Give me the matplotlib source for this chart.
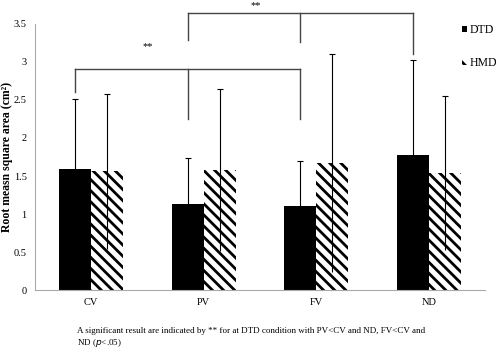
import numpy as np
import matplotlib
matplotlib.use("Agg")
import matplotlib.pyplot as plt
from matplotlib.patches import Patch

plt.rcParams["font.family"] = ["Liberation Serif", "DejaVu Serif"]
plt.rcParams["hatch.linewidth"] = 2.0

categories = ["CV", "PV", "FV", "ND"]
dtd_mean = [1.59, 1.13, 1.10, 1.77]
dtd_err = [0.92, 0.61, 0.60, 1.25]
hmd_mean = [1.565, 1.58, 1.67, 1.54]
hmd_err = [1.02, 1.06, 1.43, 1.01]

# significance brackets: category indices, drop bottoms, bracket height
brackets = [
    ([0, 1, 2], [2.60, 2.25, 2.25], 2.91),
    ([1, 2, 3], [3.29, 3.26, 3.10], 3.65),
]

fig = plt.figure(figsize=(4.96, 3.52), dpi=100)
ax = fig.add_axes([0.0706, 0.176, 0.9074, 0.756])

x = np.arange(len(categories))
w = 0.285
ax.bar(x - w / 2, dtd_mean, w, color="black", linewidth=0)
ax.bar(x + w / 2, hmd_mean, w, color="white", edgecolor="black",
       linewidth=0, hatch="\\\\\\")

for xs, m, e in [(x - w / 2, dtd_mean, dtd_err), (x + w / 2, hmd_mean, hmd_err)]:
    m = np.array(m)
    e = np.array(e)
    ax.vlines(xs, m - e, m + e, color="black", lw=0.8)
    ax.plot(xs, m + e, ls="none", marker="_", ms=4, mew=0.8, color="black")

for idx, lows, top in brackets:
    xs = [v - w / 2 for v in idx]
    ax.plot([xs[0], xs[-1]], [top, top], color="#444444", lw=1.0, clip_on=False)
    for xi, lo in zip(xs, lows):
        ax.plot([xi, xi], [lo, top], color="#444444", lw=1.0, clip_on=False)

ax.text(0.5, 3.2, "**", ha="center", va="center", fontsize=7.5)
fig.text(0.515, 0.998, "**", ha="center", va="top", fontsize=7.5)

ax.set_xlim(-0.5, 3.5)
ax.set_ylim(0, 3.5)
ax.set_yticks(np.arange(0, 3.51, 0.5))
ax.set_yticklabels(["0", "0.5", "1", "1.5", "2", "2.5", "3", "3.5"])
ax.set_xticks(x)
ax.set_xticklabels(categories)
ax.tick_params(length=0, labelsize=7.5, pad=6)
for s in ["top", "right"]:
    ax.spines[s].set_visible(False)
for s in ["left", "bottom"]:
    ax.spines[s].set_color("#aaaaaa")
    ax.spines[s].set_linewidth(0.8)

ax.set_ylabel("Root measn square area (cm²)", fontsize=8.5, fontweight="bold")
ax.yaxis.set_label_coords(-0.05, 0.5)

handles = [Patch(facecolor="black", linewidth=0),
           Patch(facecolor="white", edgecolor="black", hatch="\\\\\\", linewidth=0)]
fig.legend(handles, ["DTD", "HMD"], loc="upper left",
           bbox_to_anchor=(0.915, 0.955), frameon=False, fontsize=8.5,
           handlelength=0.4, handleheight=0.4, handletextpad=0.2,
           labelspacing=1.8, borderpad=0.2)

fig.text(0.155, 0.008,
         "A significant result are indicated by ** for at DTD condition with PV<CV and ND, FV<CV and\nND ($\\it{p}$<.05)",
         fontsize=6.5, ha="left", va="bottom", linespacing=1.3)

fig.savefig("out.png", dpi=100)
